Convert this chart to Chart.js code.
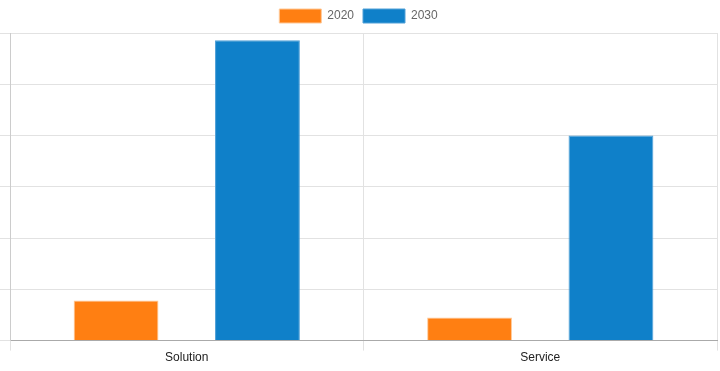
<!DOCTYPE html>
<html>
<head>
<meta charset="utf-8">
<script src="https://cdn.jsdelivr.net/npm/chart.js@4"></script>
<style>
html,body{margin:0;padding:0;background:#fff;}
#wrap{width:720px;height:371px;}
</style>
</head>
<body>
<div id="wrap"><canvas id="c" width="720" height="371"></canvas></div>
<script>
const categories = ["Solution", "Service"];
const seriesNames = ["2020", "2030"];
const values2020 = [7.8, 4.5];
const values2030 = [58.6, 40];
const yTicksMax = 60;
const yTickStep = 10;

Chart.defaults.font.family = "'Liberation Sans', Arial, sans-serif";
Chart.defaults.font.size = 12;

new Chart(document.getElementById('c'), {
  type: 'bar',
  data: {
    labels: categories,
    datasets: [
      { label: seriesNames[0], data: values2020, backgroundColor: '#ff7f12', borderColor: 'rgba(255,200,150,1)', borderWidth: 1, categoryPercentage: 0.8, barPercentage: 0.6 },
      { label: seriesNames[1], data: values2030, backgroundColor: '#0f80c9', borderColor: 'rgba(80,160,215,1)', borderWidth: 1, categoryPercentage: 0.8, barPercentage: 0.6 }
    ]
  },
  options: {
    responsive: false,
    animation: false,
    devicePixelRatio: 1,
    layout: { padding: { left: 0, right: 3, top: 0, bottom: 6 } },
    plugins: {
      legend: {
        position: 'top',
        labels: { boxWidth: 42, boxHeight: 14, color: '#666', padding: 9, font: { size: 12 } }
      },
      tooltip: { enabled: false }
    },
    scales: {
      x: {
        grid: { color: '#e2e2e2', tickLength: 10, offset: true },
        border: { color: '#aaaaaa' },
        ticks: { color: '#222', padding: 0, font: { size: 12 } }
      },
      y: {
        min: 0, max: yTicksMax,
        grid: { color: '#e2e2e2', tickLength: 10 },
        border: { color: '#cccccc' },
        ticks: { display: false, stepSize: yTickStep }
      }
    }
  }
});
</script>
</body>
</html>
